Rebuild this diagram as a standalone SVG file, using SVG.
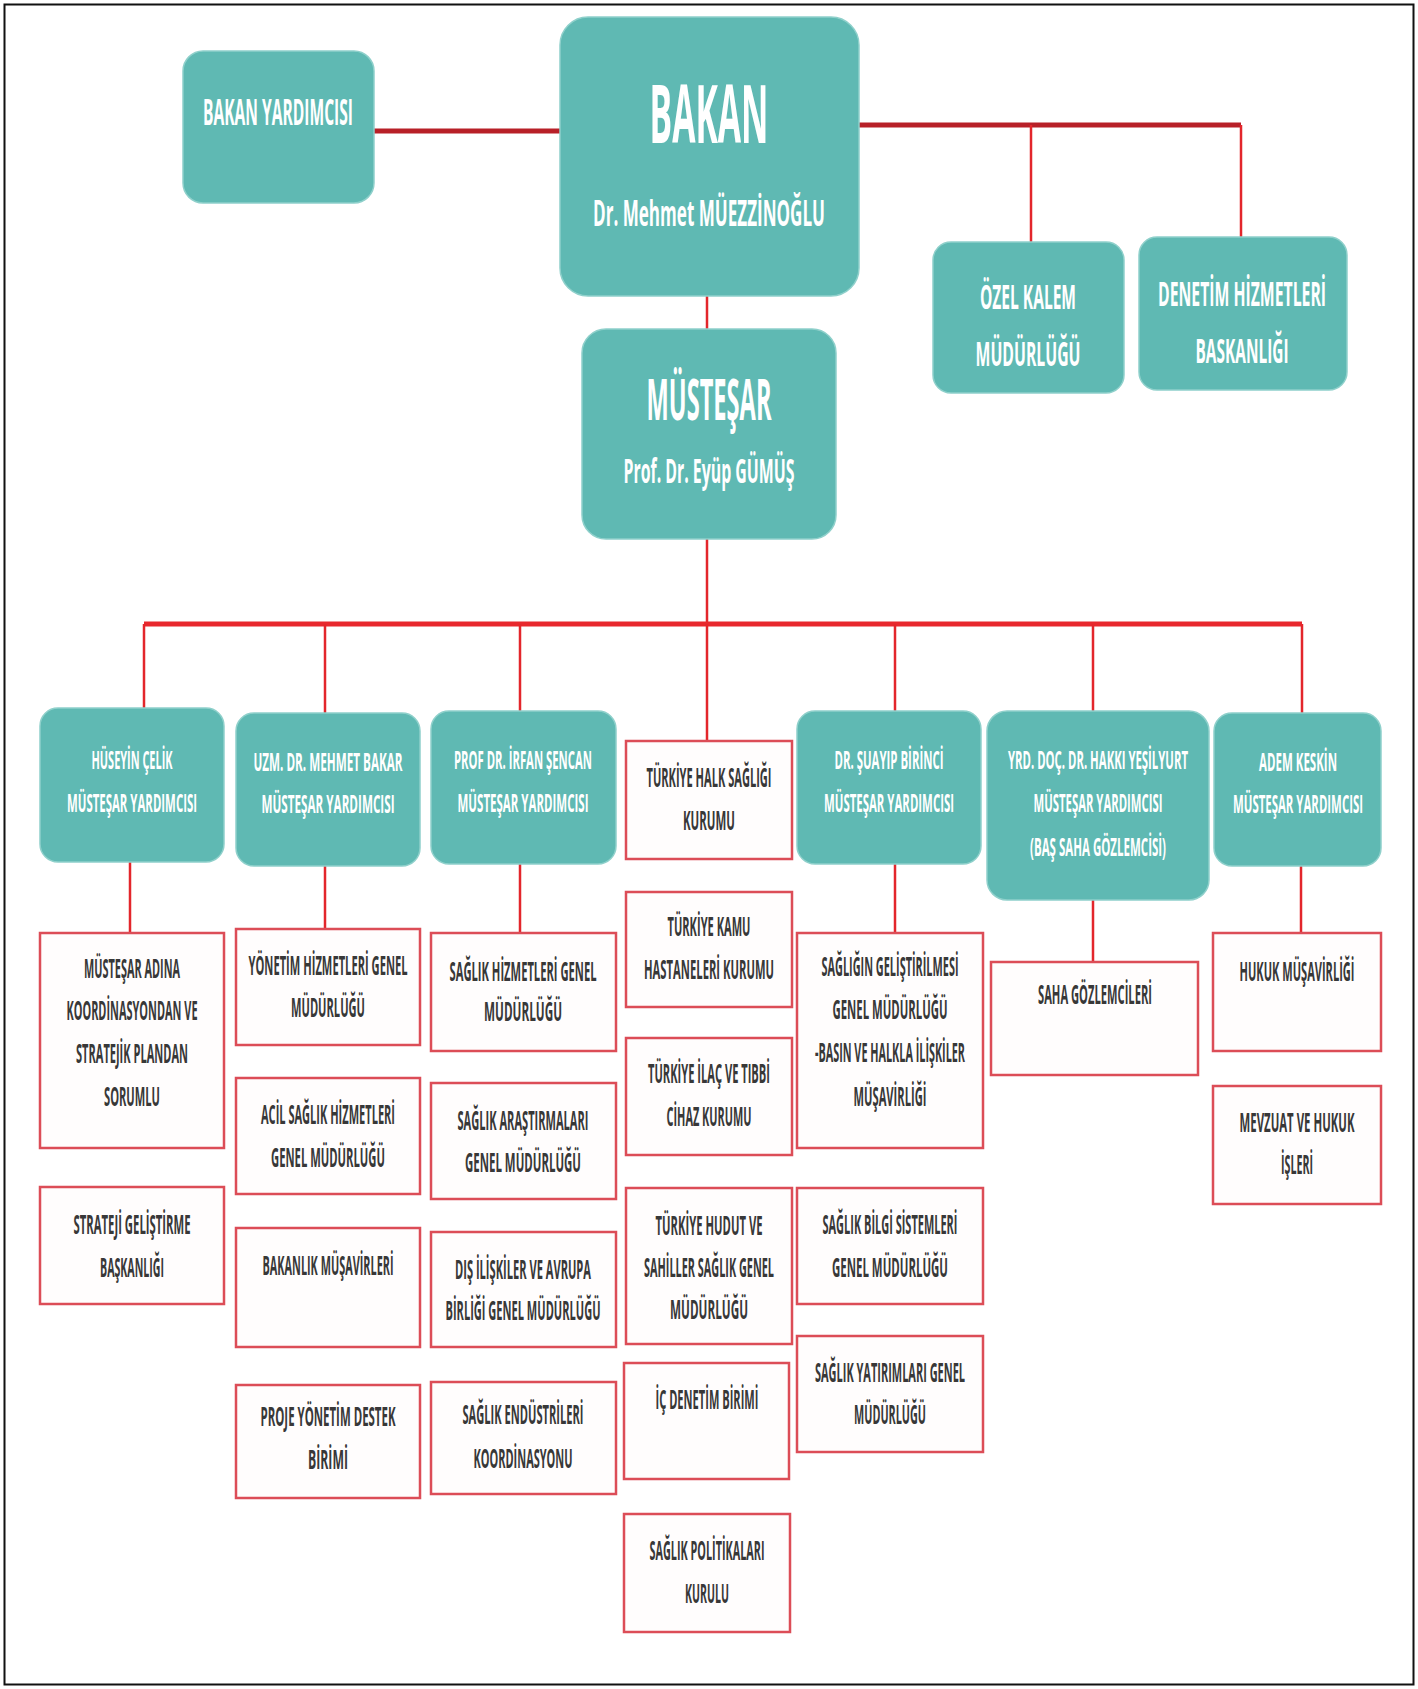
<svg xmlns="http://www.w3.org/2000/svg" width="1418" height="1689" viewBox="0 0 1418 1689">
<style>
.teal{fill:#5fb9b3;stroke:#8fd0cb;stroke-width:1.5}
.wbox{fill:#fffdfd;stroke:#dc4d57;stroke-width:2.5}
.tw{font-family:"Open Sans","Liberation Sans",sans-serif;font-weight:700;fill:#ffffff;text-anchor:middle}
.td{font-family:"Open Sans","Liberation Sans",sans-serif;font-weight:700;fill:#383838;text-anchor:middle;font-size:12.5px}
.s12{font-size:12.5px}
.conn{fill:none;stroke:#e3262b;stroke-width:2.5}
.connTop{fill:none;stroke:#b82028;stroke-width:5}
.bus{fill:none;stroke:#e8282d;stroke-width:5}
</style>
<rect x="0" y="0" width="1418" height="1689" fill="#ffffff"/>
<rect x="4.5" y="4.5" width="1409" height="1680" fill="none" stroke="#111" stroke-width="2"/>

<g id="connectors">
<path class="connTop" d="M374 131 H560"/>
<path class="connTop" d="M859 125 H1241"/>
<path class="conn" d="M1031 125 V242"/>
<path class="conn" d="M1241 125 V237"/>
<path class="conn" d="M707 296 V329"/>
<path class="conn" d="M707 539 V624"/>
<path class="bus" d="M144 624 H1302"/>
<path class="conn" d="M144 624 V708"/>
<path class="conn" d="M325 624 V713"/>
<path class="conn" d="M520 624 V711"/>
<path class="conn" d="M707 624 V741"/>
<path class="conn" d="M895 624 V711"/>
<path class="conn" d="M1093 624 V711"/>
<path class="conn" d="M1302 624 V713"/>
<path class="conn" d="M130 862 V933"/>
<path class="conn" d="M325 866 V929"/>
<path class="conn" d="M520 864 V933"/>
<path class="conn" d="M895 864 V933"/>
<path class="conn" d="M1093 900 V962"/>
<path class="conn" d="M1301 866 V933"/>
</g>

<g id="bakan-yardimcisi">
<rect class="teal" x="183" y="51" width="191" height="152" rx="20"/>
<text class="tw" font-size="16" transform="translate(278 125) scale(1 2.25)" textLength="150" lengthAdjust="spacingAndGlyphs">BAKAN YARDIMCISI</text>
</g>
<g id="bakan">
<rect class="teal" x="560" y="17" width="299" height="279" rx="28"/>
<text class="tw" font-size="34" transform="translate(709 143) scale(1 2.35)" textLength="119" lengthAdjust="spacingAndGlyphs">BAKAN</text>
<text class="tw" font-size="17.5" transform="translate(709 226) scale(1 2)" textLength="232" lengthAdjust="spacingAndGlyphs">Dr. Mehmet MÜEZZİNOĞLU</text>
</g>
<g id="ozel-kalem">
<rect class="teal" x="933" y="242" width="191" height="151" rx="18"/>
<text class="tw" font-size="16" transform="translate(1028 309) scale(1 2.1)" textLength="96" lengthAdjust="spacingAndGlyphs">ÖZEL KALEM</text>
<text class="tw" font-size="16" transform="translate(1028 366) scale(1 2.1)" textLength="105" lengthAdjust="spacingAndGlyphs">MÜDÜRLÜĞÜ</text>
</g>
<g id="denetim">
<rect class="teal" x="1139" y="237" width="208" height="153" rx="18"/>
<text class="tw" font-size="16" transform="translate(1242 306) scale(1 2.1)" textLength="168" lengthAdjust="spacingAndGlyphs">DENETİM HİZMETLERİ</text>
<text class="tw" font-size="16" transform="translate(1242 363) scale(1 2.1)" textLength="93" lengthAdjust="spacingAndGlyphs">BASKANLIĞI</text>
</g>
<g id="mustesar">
<rect class="teal" x="582" y="329" width="254" height="210" rx="24"/>
<text class="tw" font-size="23.5" transform="translate(709 420) scale(1 2.45)" textLength="125" lengthAdjust="spacingAndGlyphs">MÜSTEŞAR</text>
<text class="tw" font-size="17" transform="translate(709 483) scale(1 2)" textLength="171" lengthAdjust="spacingAndGlyphs">Prof. Dr. Eyüp GÜMÜŞ</text>
</g>

<g id="dep-celik">
<rect class="teal" x="40" y="708" width="184" height="154" rx="18"/>
<text class="tw s12" transform="translate(132 769) scale(1 2.05)" textLength="81" lengthAdjust="spacingAndGlyphs">HÜSEYİN ÇELİK</text>
<text class="tw s12" transform="translate(132 812) scale(1 2.05)" textLength="130" lengthAdjust="spacingAndGlyphs">MÜSTEŞAR YARDIMCISI</text>
</g>
<g id="dep-bakar">
<rect class="teal" x="236" y="713" width="184" height="153" rx="18"/>
<text class="tw s12" transform="translate(328 771) scale(1 2.05)" textLength="149" lengthAdjust="spacingAndGlyphs">UZM. DR. MEHMET BAKAR</text>
<text class="tw s12" transform="translate(328 813) scale(1 2.05)" textLength="133" lengthAdjust="spacingAndGlyphs">MÜSTEŞAR YARDIMCISI</text>
</g>
<g id="dep-sencan">
<rect class="teal" x="431" y="711" width="185" height="153" rx="18"/>
<text class="tw s12" transform="translate(523 769) scale(1 2.05)" textLength="138" lengthAdjust="spacingAndGlyphs">PROF DR. İRFAN ŞENCAN</text>
<text class="tw s12" transform="translate(523 812) scale(1 2.05)" textLength="131" lengthAdjust="spacingAndGlyphs">MÜSTEŞAR YARDIMCISI</text>
</g>
<g id="halk-sagligi">
<rect class="wbox" x="626" y="741" width="166" height="118"/>
<text class="td" transform="translate(709 787) scale(1 2.2)" textLength="125" lengthAdjust="spacingAndGlyphs">TÜRKİYE HALK SAĞLIĞI</text>
<text class="td" transform="translate(709 830) scale(1 2.2)" textLength="52" lengthAdjust="spacingAndGlyphs">KURUMU</text>
</g>
<g id="dep-birinci">
<rect class="teal" x="797" y="711" width="184" height="153" rx="18"/>
<text class="tw s12" transform="translate(889 769) scale(1 2.05)" textLength="109" lengthAdjust="spacingAndGlyphs">DR. ŞUAYIP BİRİNCİ</text>
<text class="tw s12" transform="translate(889 812) scale(1 2.05)" textLength="130" lengthAdjust="spacingAndGlyphs">MÜSTEŞAR YARDIMCISI</text>
</g>
<g id="dep-yesilyurt">
<rect class="teal" x="987" y="711" width="222" height="189" rx="20"/>
<text class="tw s12" transform="translate(1098 769) scale(1 2.05)" textLength="180" lengthAdjust="spacingAndGlyphs">YRD. DOÇ. DR. HAKKI YEŞİLYURT</text>
<text class="tw s12" transform="translate(1098 812) scale(1 2.05)" textLength="129" lengthAdjust="spacingAndGlyphs">MÜSTEŞAR YARDIMCISI</text>
<text class="tw s12" transform="translate(1098 856) scale(1 2.05)" textLength="136" lengthAdjust="spacingAndGlyphs">(BAŞ SAHA GÖZLEMCİSİ)</text>
</g>
<g id="dep-keskin">
<rect class="teal" x="1214" y="713" width="167" height="153" rx="18"/>
<text class="tw s12" transform="translate(1298 771) scale(1 2.05)" textLength="78" lengthAdjust="spacingAndGlyphs">ADEM KESKİN</text>
<text class="tw s12" transform="translate(1298 813) scale(1 2.05)" textLength="130" lengthAdjust="spacingAndGlyphs">MÜSTEŞAR YARDIMCISI</text>
</g>

<g id="koordinasyon">
<rect class="wbox" x="40" y="933" width="184" height="215"/>
<text class="td" transform="translate(132 978) scale(1 2.2)" textLength="96" lengthAdjust="spacingAndGlyphs">MÜSTEŞAR ADINA</text>
<text class="td" transform="translate(132 1020) scale(1 2.2)" textLength="131" lengthAdjust="spacingAndGlyphs">KOORDİNASYONDAN VE</text>
<text class="td" transform="translate(132 1063) scale(1 2.2)" textLength="112" lengthAdjust="spacingAndGlyphs">STRATEJİK PLANDAN</text>
<text class="td" transform="translate(132 1106) scale(1 2.2)" textLength="56" lengthAdjust="spacingAndGlyphs">SORUMLU</text>
</g>
<g id="strateji">
<rect class="wbox" x="40" y="1187" width="184" height="117"/>
<text class="td" transform="translate(132 1234) scale(1 2.2)" textLength="117" lengthAdjust="spacingAndGlyphs">STRATEJİ GELİŞTİRME</text>
<text class="td" transform="translate(132 1277) scale(1 2.2)" textLength="64" lengthAdjust="spacingAndGlyphs">BAŞKANLIĞI</text>
</g>

<g id="yonetim">
<rect class="wbox" x="236" y="929" width="184" height="116"/>
<text class="td" transform="translate(328 975) scale(1 2.2)" textLength="159" lengthAdjust="spacingAndGlyphs">YÖNETİM HİZMETLERİ GENEL</text>
<text class="td" transform="translate(328 1017) scale(1 2.2)" textLength="74" lengthAdjust="spacingAndGlyphs">MÜDÜRLÜĞÜ</text>
</g>
<g id="acil">
<rect class="wbox" x="236" y="1078" width="184" height="116"/>
<text class="td" transform="translate(328 1124) scale(1 2.2)" textLength="134" lengthAdjust="spacingAndGlyphs">ACİL SAĞLIK HİZMETLERİ</text>
<text class="td" transform="translate(328 1167) scale(1 2.2)" textLength="114" lengthAdjust="spacingAndGlyphs">GENEL MÜDÜRLÜĞÜ</text>
</g>
<g id="musavirler">
<rect class="wbox" x="236" y="1228" width="184" height="119"/>
<text class="td" transform="translate(328 1275) scale(1 2.2)" textLength="131" lengthAdjust="spacingAndGlyphs">BAKANLIK MÜŞAVİRLERİ</text>
</g>
<g id="proje">
<rect class="wbox" x="236" y="1385" width="184" height="113"/>
<text class="td" transform="translate(328 1426) scale(1 2.2)" textLength="135" lengthAdjust="spacingAndGlyphs">PROJE YÖNETİM DESTEK</text>
<text class="td" transform="translate(328 1469) scale(1 2.2)" textLength="40" lengthAdjust="spacingAndGlyphs">BİRİMİ</text>
</g>

<g id="saglik-hizmetleri">
<rect class="wbox" x="431" y="933" width="185" height="118"/>
<text class="td" transform="translate(523 981) scale(1 2.2)" textLength="147" lengthAdjust="spacingAndGlyphs">SAĞLIK HİZMETLERİ GENEL</text>
<text class="td" transform="translate(523 1021) scale(1 2.2)" textLength="78" lengthAdjust="spacingAndGlyphs">MÜDÜRLÜĞÜ</text>
</g>
<g id="arastirmalar">
<rect class="wbox" x="431" y="1083" width="185" height="116"/>
<text class="td" transform="translate(523 1130) scale(1 2.2)" textLength="131" lengthAdjust="spacingAndGlyphs">SAĞLIK ARAŞTIRMALARI</text>
<text class="td" transform="translate(523 1172) scale(1 2.2)" textLength="116" lengthAdjust="spacingAndGlyphs">GENEL MÜDÜRLÜĞÜ</text>
</g>
<g id="dis-iliskiler">
<rect class="wbox" x="431" y="1232" width="185" height="115"/>
<text class="td" transform="translate(523 1279) scale(1 2.2)" textLength="136" lengthAdjust="spacingAndGlyphs">DIŞ İLİŞKİLER VE AVRUPA</text>
<text class="td" transform="translate(523 1320) scale(1 2.2)" textLength="155" lengthAdjust="spacingAndGlyphs">BİRLİĞİ GENEL MÜDÜRLÜĞÜ</text>
</g>
<g id="endustriler">
<rect class="wbox" x="431" y="1382" width="185" height="112"/>
<text class="td" transform="translate(523 1424) scale(1 2.2)" textLength="121" lengthAdjust="spacingAndGlyphs">SAĞLIK ENDÜSTRİLERİ</text>
<text class="td" transform="translate(523 1468) scale(1 2.2)" textLength="99" lengthAdjust="spacingAndGlyphs">KOORDİNASYONU</text>
</g>

<g id="kamu-hastaneleri">
<rect class="wbox" x="626" y="892" width="166" height="115"/>
<text class="td" transform="translate(709 936) scale(1 2.2)" textLength="83" lengthAdjust="spacingAndGlyphs">TÜRKİYE KAMU</text>
<text class="td" transform="translate(709 979) scale(1 2.2)" textLength="130" lengthAdjust="spacingAndGlyphs">HASTANELERİ KURUMU</text>
</g>
<g id="ilac">
<rect class="wbox" x="626" y="1038" width="166" height="117"/>
<text class="td" transform="translate(709 1083) scale(1 2.2)" textLength="122" lengthAdjust="spacingAndGlyphs">TÜRKİYE İLAÇ VE TIBBİ</text>
<text class="td" transform="translate(709 1126) scale(1 2.2)" textLength="85" lengthAdjust="spacingAndGlyphs">CİHAZ KURUMU</text>
</g>
<g id="hudut">
<rect class="wbox" x="626" y="1188" width="166" height="156"/>
<text class="td" transform="translate(709 1235) scale(1 2.2)" textLength="107" lengthAdjust="spacingAndGlyphs">TÜRKİYE HUDUT VE</text>
<text class="td" transform="translate(709 1277) scale(1 2.2)" textLength="130" lengthAdjust="spacingAndGlyphs">SAHİLLER SAĞLIK GENEL</text>
<text class="td" transform="translate(709 1319) scale(1 2.2)" textLength="78" lengthAdjust="spacingAndGlyphs">MÜDÜRLÜĞÜ</text>
</g>
<g id="ic-denetim">
<rect class="wbox" x="624" y="1363" width="165" height="116"/>
<text class="td" transform="translate(707 1409) scale(1 2.2)" textLength="103" lengthAdjust="spacingAndGlyphs">İÇ DENETİM BİRİMİ</text>
</g>
<g id="politikalar">
<rect class="wbox" x="624" y="1514" width="166" height="118"/>
<text class="td" transform="translate(707 1560) scale(1 2.2)" textLength="115" lengthAdjust="spacingAndGlyphs">SAĞLIK POLİTİKALARI</text>
<text class="td" transform="translate(707 1603) scale(1 2.2)" textLength="44" lengthAdjust="spacingAndGlyphs">KURULU</text>
</g>

<g id="gelistirilmesi">
<rect class="wbox" x="797" y="933" width="186" height="215"/>
<text class="td" transform="translate(890 976) scale(1 2.2)" textLength="137" lengthAdjust="spacingAndGlyphs">SAĞLIĞIN GELİŞTİRİLMESİ</text>
<text class="td" transform="translate(890 1019) scale(1 2.2)" textLength="115" lengthAdjust="spacingAndGlyphs">GENEL MÜDÜRLÜĞÜ</text>
<text class="td" transform="translate(890 1062) scale(1 2.2)" textLength="150" lengthAdjust="spacingAndGlyphs">-BASIN VE HALKLA İLİŞKİLER</text>
<text class="td" transform="translate(890 1106) scale(1 2.2)" textLength="73" lengthAdjust="spacingAndGlyphs">MÜŞAVİRLİĞİ</text>
</g>
<g id="bilgi-sistemleri">
<rect class="wbox" x="797" y="1188" width="186" height="116"/>
<text class="td" transform="translate(890 1234) scale(1 2.2)" textLength="135" lengthAdjust="spacingAndGlyphs">SAĞLIK BİLGİ SİSTEMLERİ</text>
<text class="td" transform="translate(890 1277) scale(1 2.2)" textLength="116" lengthAdjust="spacingAndGlyphs">GENEL MÜDÜRLÜĞÜ</text>
</g>
<g id="yatirimlar">
<rect class="wbox" x="797" y="1336" width="186" height="116"/>
<text class="td" transform="translate(890 1382) scale(1 2.2)" textLength="150" lengthAdjust="spacingAndGlyphs">SAĞLIK YATIRIMLARI GENEL</text>
<text class="td" transform="translate(890 1424) scale(1 2.2)" textLength="72" lengthAdjust="spacingAndGlyphs">MÜDÜRLÜĞÜ</text>
</g>

<g id="saha">
<rect class="wbox" x="991" y="962" width="207" height="113"/>
<text class="td" transform="translate(1095 1004) scale(1 2.2)" textLength="114" lengthAdjust="spacingAndGlyphs">SAHA GÖZLEMCİLERİ</text>
</g>

<g id="hukuk">
<rect class="wbox" x="1213" y="933" width="168" height="118"/>
<text class="td" transform="translate(1297 981) scale(1 2.2)" textLength="115" lengthAdjust="spacingAndGlyphs">HUKUK MÜŞAVİRLİĞİ</text>
</g>
<g id="mevzuat">
<rect class="wbox" x="1213" y="1086" width="168" height="118"/>
<text class="td" transform="translate(1297 1132) scale(1 2.2)" textLength="115" lengthAdjust="spacingAndGlyphs">MEVZUAT VE HUKUK</text>
<text class="td" transform="translate(1297 1174) scale(1 2.2)" textLength="32" lengthAdjust="spacingAndGlyphs">İŞLERİ</text>
</g>
</svg>
